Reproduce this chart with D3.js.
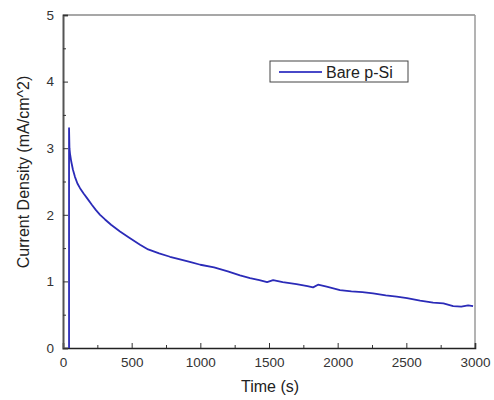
<!DOCTYPE html>
<html>
<head>
<meta charset="utf-8">
<script src="https://cdn.jsdelivr.net/npm/d3@7"></script>
<style>
  body { margin: 0; background: #fff; }
  svg { font-family: Arial, "Liberation Sans", sans-serif; }
</style>
</head>
<body>
<svg width="494" height="400"></svg>
<script>
// Data
const timeValues = [44, 44, 47, 51, 60, 72, 87, 105, 124, 150, 175, 210, 240, 270, 306, 350, 415, 480, 561, 620, 700, 779, 852, 930, 1000, 1100, 1200, 1289, 1362, 1430, 1486, 1530, 1600, 1700, 1780, 1821, 1857, 1920, 2017, 2100, 2180, 2258, 2350, 2430, 2505, 2600, 2695, 2770, 2841, 2900, 2950, 2986];
const currentValues = [0, 3.3, 3.0, 2.92, 2.8, 2.68, 2.57, 2.47, 2.4, 2.32, 2.25, 2.15, 2.07, 2.0, 1.93, 1.85, 1.75, 1.66, 1.55, 1.48, 1.42, 1.37, 1.33, 1.29, 1.25, 1.21, 1.15, 1.09, 1.05, 1.02, 0.99, 1.02, 0.99, 0.96, 0.93, 0.91, 0.95, 0.92, 0.87, 0.85, 0.84, 0.82, 0.79, 0.77, 0.75, 0.71, 0.68, 0.67, 0.63, 0.62, 0.64, 0.63];
const seriesName = "Bare p-Si";
const xTicks = [0, 500, 1000, 1500, 2000, 2500, 3000];
const xMinorTicks = [250, 750, 1250, 1750, 2250, 2750];
const yTicks = [0, 1, 2, 3, 4, 5];
const yMinorTicks = [0.5, 1.5, 2.5, 3.5, 4.5];

const svg = d3.select("svg");
const margin = { left: 63, top: 15, right: 475, bottom: 348 };

const x = d3.scaleLinear().domain([0, 3000]).range([margin.left, margin.right]);
const y = d3.scaleLinear().domain([0, 5]).range([margin.bottom, margin.top]);

// frame: top and right grey
svg.append("line")
  .attr("x1", margin.left).attr("x2", margin.right)
  .attr("y1", margin.top).attr("y2", margin.top)
  .attr("stroke", "#8a8a8a").attr("stroke-width", 1.5);
svg.append("line")
  .attr("x1", margin.right).attr("x2", margin.right)
  .attr("y1", margin.top).attr("y2", margin.bottom)
  .attr("stroke", "#9a9a9a").attr("stroke-width", 1.5);

// bottom axis
svg.append("g")
  .attr("transform", `translate(0,${margin.bottom})`)
  .call(d3.axisBottom(x).tickValues(xTicks).tickSize(-5).tickPadding(9).tickFormat(d3.format("d")));
svg.append("g")
  .attr("transform", `translate(0,${margin.bottom})`)
  .call(d3.axisBottom(x).tickValues(xMinorTicks).tickSize(-3).tickFormat(""))
  .call(g => g.select(".domain").remove());

// left axis
const yAxis = svg.append("g")
  .attr("transform", `translate(${margin.left},0)`)
  .call(d3.axisLeft(y).tickValues(yTicks).tickSize(-5).tickPadding(9).tickFormat(d3.format("d")));
svg.append("g")
  .attr("transform", `translate(${margin.left},0)`)
  .call(d3.axisLeft(y).tickValues(yMinorTicks).tickSize(-3).tickFormat(""))
  .call(g => g.select(".domain").remove());

svg.selectAll(".domain").attr("stroke", "#222").attr("stroke-width", 1.6);
svg.selectAll(".tick line").attr("stroke", "#333");
svg.selectAll(".tick text").attr("font-size", 13.5).attr("fill", "#333");
yAxis.select(".domain").attr("stroke", "#555").attr("stroke-width", 2);

// data line
const points = timeValues.map((t, i) => [t, currentValues[i]]);
const line = d3.line().x(d => x(d[0])).y(d => y(d[1]));
svg.append("path")
  .datum(points)
  .attr("fill", "none")
  .attr("stroke", "#2b2bb8")
  .attr("stroke-width", 1.8)
  .attr("stroke-linejoin", "round")
  .attr("d", line);

// axis titles
svg.append("text")
  .attr("x", 270)
  .attr("y", 392)
  .attr("text-anchor", "middle")
  .attr("font-size", 16)
  .attr("fill", "#222")
  .text("Time (s)");

svg.append("text")
  .attr("transform", "translate(29,172) rotate(-90)")
  .attr("text-anchor", "middle")
  .attr("font-size", 16)
  .attr("fill", "#222")
  .text("Current Density (mA/cm^2)");

// legend
const legend = svg.append("g").attr("transform", "translate(270,61)");
legend.append("rect")
  .attr("width", 138).attr("height", 21)
  .attr("fill", "#fff").attr("stroke", "#444").attr("stroke-width", 1);
legend.append("line")
  .attr("x1", 9).attr("x2", 52).attr("y1", 11).attr("y2", 11)
  .attr("stroke", "#4848c8").attr("stroke-width", 2);
legend.append("text")
  .attr("x", 56).attr("y", 16.5)
  .attr("font-size", 16)
  .attr("fill", "#222")
  .text(seriesName);
</script>
</body>
</html>
